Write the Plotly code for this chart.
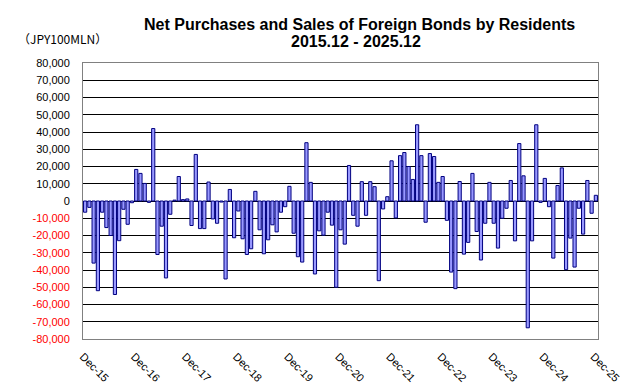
import plotly.graph_objects as go

# Monthly net purchases (+) / sales (-) of foreign bonds, JPY 100 million, Dec-2015 .. Dec-2025
values = [
    -6500, -3700, -36000, -52000, -6500, -15400, -20000, -54200, -23000, -4800, -13500, -1000,
    18300, 16000, 10200, -800, 42000, -31000, -14600, -44600, -7700, 500, 14200, 800,
    1200, -14200, 27000, -16000, -16000, 11000, -10400, -12900, -600, -45200, 6700, -21300,
    -5800, -21900, -31000, -27700, 5600, -16700, -30600, -22500, -13800, -17900, -6500, -3300,
    8500, -18700, -32300, -35400, 33800, 10800, -42300, -17300, -19800, -6500, -14000, -50000,
    -16700, -25000, 20600, -8300, -14600, 11200, -8300, 11200, 8300, -46200, -4600, 2500,
    23300, -9800, 26300, 28100, 20000, 12500, 44200, 26300, -12300, 27500, 25800, 10800,
    14200, -11200, -41200, -50800, 11300, -30800, -24000, 16000, -17700, -34200, -12900, 10800,
    -12900, -27300, -10000, -4200, 11900, -23100, 33300, 14600, -73500, -23100, 44200, -800,
    13100, -3300, -33100, 9000, 19200, -39800, -21500, -38300, -4200, -19200, 11900, -7100, 3300,
]

year_labels = ["Dec-15", "Dec-16", "Dec-17", "Dec-18", "Dec-19", "Dec-20",
               "Dec-21", "Dec-22", "Dec-23", "Dec-24", "Dec-25"]

y_ticks = list(range(-80000, 80001, 10000))

months = []
y, m = 2015, 12
for _ in values:
    months.append(f"{y}.{m:02d}")
    m += 1
    if m > 12:
        m = 1
        y += 1

x_idx = list(range(len(values)))

def fmt(v):
    s = f"{v:,}"
    if v < 0:
        return f'<span style="color:#FF0000">{s}</span>'
    return s

fig = go.Figure()
fig.add_trace(go.Bar(
    x=x_idx, y=values, hovertext=months,
    marker=dict(color="#9999FF", line=dict(color="#000080", width=1)),
))

# page body has an 8px margin, so the figure is offset by 8px
fig.update_layout(
    width=625, height=377,
    margin=dict(l=75, r=35, t=55, b=46),
    paper_bgcolor="white", plot_bgcolor="white",
    showlegend=False, bargap=0.25,
    font=dict(family="Liberation Sans, Arial, sans-serif", size=11, color="black"),
)

fig.update_xaxes(
    range=[-0.5, len(values) - 0.5],
    tickvals=[12 * k - 0.5 for k in range(len(year_labels))],
    ticktext=year_labels,
    tickangle=45,
    tickfont=dict(size=11),
    showgrid=False, zeroline=False,
    showline=True, linecolor="#808080", linewidth=1, mirror=True,
    ticks="", ticklabelstandoff=6, automargin=False,
)

fig.update_yaxes(
    range=[-80000, 80000],
    tickvals=y_ticks,
    ticktext=[fmt(v) for v in y_ticks],
    showgrid=True, gridcolor="black", gridwidth=1,
    zeroline=True, zerolinecolor="black", zerolinewidth=1,
    showline=True, linecolor="#808080", linewidth=1, mirror=True,
    ticks="", ticklabelstandoff=10, automargin=False,
    tickfont=dict(size=11),
)

fig.add_annotation(
    text="<b>Net Purchases and Sales of Foreign Bonds by Residents</b>",
    xref="paper", yref="paper", x=(359 - 83) / 515, y=1 + (63 - 24) / 276,
    xanchor="center", yanchor="middle", showarrow=False,
    font=dict(size=16, family="Liberation Sans, Arial, sans-serif"),
)
fig.add_annotation(
    text="<b>2015.12 - 2025.12</b>",
    xref="paper", yref="paper", x=(356 - 83) / 515, y=1 + (63 - 42) / 276,
    xanchor="center", yanchor="middle", showarrow=False,
    font=dict(size=16, family="Liberation Sans, Arial, sans-serif"),
)
fig.add_annotation(
    text="（JPY100MLN）",
    xref="paper", yref="paper", x=(16 - 83) / 515, y=1 + (63 - 38) / 276,
    xanchor="left", yanchor="middle", showarrow=False,
    font=dict(size=12, family="Noto Sans CJK JP, Liberation Sans, sans-serif"),
)

fig.write_html("out.html")
